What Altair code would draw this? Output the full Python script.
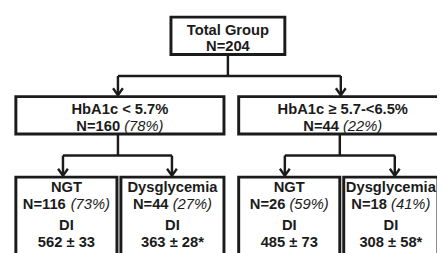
import altair as alt
import pandas as pd

# ---------------- data ----------------
total_label = "Total Group"
total_n = 204
mid_labels = ["HbA1c < 5.7%", "HbA1c \u2265 5.7-<6.5%"]
mid_n = [160, 44]
mid_pct = [78, 22]
sub_labels = ["NGT", "Dysglycemia", "NGT", "Dysglycemia"]
sub_n = [116, 44, 26, 18]
sub_pct = [73, 27, 59, 41]
di_label = "DI"
di_mean = [562, 363, 485, 308]
di_se = [33, 28, 73, 58]
di_sig = ["", "*", "", "*"]

# ---------------- layout (page pixels) ----------------
FONT = "Liberation Sans"
FS = 15
INK = "#1b1b1b"
top_box = (174, 290, 15, 53)
mid_boxes = [(16, 228, 96, 134), (243, 455, 96, 134)]
sub_boxes = [(16, 119, 178, 275), (123, 228, 178, 275),
             (243, 346, 178, 275), (350, 446, 178, 275)]
sub_div_y = 217
top_line_y = [28, 45]
mid_line_y = [109, 126]
sub_line_y = [188, 205, 227, 244]

# Arial metrics (per 1000 em)
W_REG = {" ": 278, "(": 333, ")": 333, "%": 889, "=": 584, "N": 722}
W_BOLD = {" ": 278, "=": 584, "N": 722}
for d in "0123456789":
    W_REG[d] = 556
    W_BOLD[d] = 556


def width(s, table):
    return sum(table[c] for c in s) * FS / 1000.0


boxes, rules, arrows = [], [], []
centered, bold_left, ital_left = [], [], []


def add_box(b):
    boxes.append(dict(x=b[0], x2=b[1], y=b[2], y2=b[3]))


def split_line(cx, y, n, pct):
    bold = f"N={n}"
    ital = f"({pct}%)"
    wb = width(bold, W_BOLD)
    ws = width(" ", W_REG)
    wi = width(ital, W_REG)
    start = cx - (wb + ws + wi) / 2
    bold_left.append(dict(x=start, y=y, t=bold))
    ital_left.append(dict(x=start + wb + ws, y=y, t=ital))


def connector(src_box, stem_x, targets_x, y_mid, y_tip):
    rules.append(dict(x=stem_x, x2=stem_x, y=src_box[3], y2=y_mid))
    rules.append(dict(x=min(targets_x), x2=max(targets_x), y=y_mid, y2=y_mid))
    for tx in targets_x:
        rules.append(dict(x=tx, x2=tx, y=y_mid, y2=y_tip - 1.5))
        arrows.append(dict(x=tx, y=y_tip - 1.5))


# top
add_box(top_box)
tcx = (top_box[0] + top_box[1]) / 2
centered.append(dict(x=tcx, y=top_line_y[0], t=total_label))
centered.append(dict(x=tcx, y=top_line_y[1], t=f"N={total_n}"))
connector(top_box, 232, [120, 347], 75, mid_boxes[0][2])

# middle
for i, b in enumerate(mid_boxes):
    add_box(b)
    cx = (b[0] + b[1]) / 2
    centered.append(dict(x=cx, y=mid_line_y[0], t=mid_labels[i]))
    split_line(cx, mid_line_y[1], mid_n[i], mid_pct[i])

connector(mid_boxes[0], 120, [64, 175], 156, sub_boxes[0][2])
connector(mid_boxes[1], 346, [290, 402], 156, sub_boxes[2][2])

# bottom
for i, b in enumerate(sub_boxes):
    add_box(b)
    rules.append(dict(x=b[0], x2=b[1], y=sub_div_y, y2=sub_div_y))
    cx = (b[0] + b[1]) / 2
    centered.append(dict(x=cx, y=sub_line_y[0], t=sub_labels[i]))
    split_line(cx, sub_line_y[1], sub_n[i], sub_pct[i])
    centered.append(dict(x=cx, y=sub_line_y[2], t=di_label))
    centered.append(dict(x=cx, y=sub_line_y[3],
                         t=f"{di_mean[i]} \u00b1 {di_se[i]}{di_sig[i]}"))

W, H = 437, 245
xs = alt.Scale(domain=[8, 8 + W], nice=False, zero=False)
ys = alt.Scale(domain=[8, 8 + H], nice=False, zero=False, reverse=True)

X = lambda f="x": alt.X(f"{f}:Q", scale=xs, axis=None)
Y = lambda f="y": alt.Y(f"{f}:Q", scale=ys, axis=None)

box_layer = alt.Chart(pd.DataFrame(boxes)).mark_rect(
    fill="white", stroke=INK, strokeWidth=3
).encode(x=X(), x2="x2:Q", y=Y(), y2="y2:Q")

rule_layer = alt.Chart(pd.DataFrame(rules)).mark_rule(
    color=INK, strokeWidth=2.5
).encode(x=X(), x2="x2:Q", y=Y(), y2="y2:Q")

arrow_layer = alt.Chart(pd.DataFrame(arrows)).mark_point(
    shape="M-1,-1.4L0,0L1,-1.4", size=100, filled=False,
    stroke=INK, strokeWidth=2.4, opacity=1
).encode(x=X(), y=Y())

txt = dict(font=FONT, fontSize=FS, color=INK, baseline="middle")
center_layer = alt.Chart(pd.DataFrame(centered)).mark_text(
    align="center", fontWeight="bold", **txt
).encode(x=X(), y=Y(), text="t:N")
bold_layer = alt.Chart(pd.DataFrame(bold_left)).mark_text(
    align="left", fontWeight="bold", **txt
).encode(x=X(), y=Y(), text="t:N")
ital_layer = alt.Chart(pd.DataFrame(ital_left)).mark_text(
    align="left", fontStyle="italic", **txt
).encode(x=X(), y=Y(), text="t:N")

chart = alt.layer(
    rule_layer, box_layer, arrow_layer, center_layer, bold_layer, ital_layer
).properties(
    width=W, height=H, padding=0, autosize="none",
    background="white"
).configure_view(stroke=None)

chart.save("out.html", embed_options={"renderer": "svg", "actions": False})
